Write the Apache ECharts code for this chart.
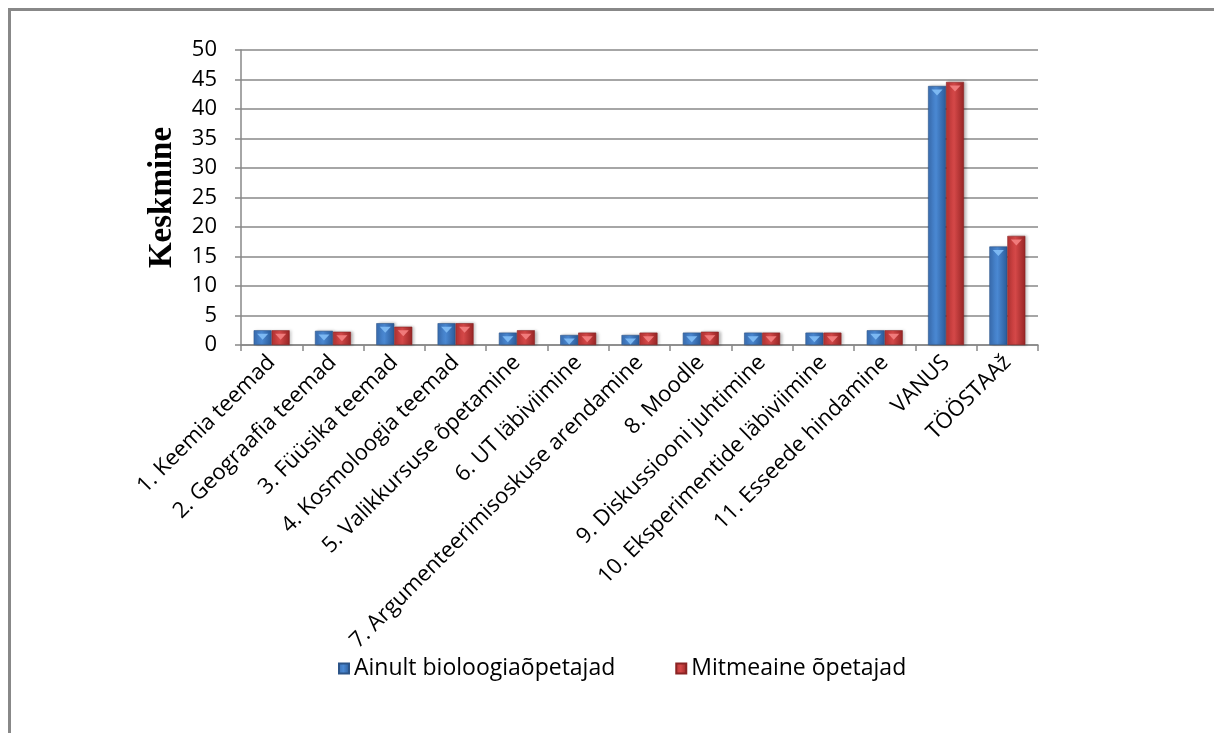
<!DOCTYPE html>
<html>
<head>
<meta charset="utf-8">
<script src="https://cdn.jsdelivr.net/npm/echarts@6/dist/echarts.min.js"></script>
<style>
  html, body { margin: 0; padding: 0; background: #fff; }
  #frame { position: absolute; left: 8px; top: 8px; width: 1206px; height: 725px;
           border-left: 3px solid #888; border-top: 3px solid #888; box-sizing: border-box; }
  #chart { position: absolute; left: 0; top: 0; width: 1214px; height: 733px; }
</style>
</head>
<body>
<div id="frame"></div>
<div id="chart"></div>
<script>
// Kategooriad ja keskmised väärtused
const categories = [
  '1. Keemia teemad',
  '2. Geograafia teemad',
  '3. Füüsika teemad',
  '4. Kosmoloogia teemad',
  '5. Valikkursuse õpetamine',
  '6. UT läbiviimine',
  '7. Argumenteerimisoskuse arendamine',
  '8. Moodle',
  '9. Diskussiooni juhtimine',
  '10. Eksperimentide läbiviimine',
  '11. Esseede hindamine',
  'VANUS',
  'TÖÖSTAAž'
];
const bioTeachers   = [2.5, 2.4, 3.7, 3.7, 2.1, 1.7, 1.7, 2.1, 2.1, 2.1, 2.5, 43.9, 16.7];
const multiTeachers = [2.5, 2.25, 3.1, 3.7, 2.5, 2.1, 2.1, 2.25, 2.1, 2.1, 2.5, 44.6, 18.5];
const seriesNames = ['Ainult bioloogiaõpetajad', 'Mitmeaine õpetajad'];
const yTicks = { min: 0, max: 50, interval: 5 };

function barGradient(dark, mid, light) {
  return new echarts.graphic.LinearGradient(0, 0, 1, 0, [
    { offset: 0, color: mid },
    { offset: 0.45, color: light },
    { offset: 1, color: dark }
  ]);
}

const chart = echarts.init(document.getElementById('chart'));
const labelFont = '"Open Sans", sans-serif';
const BAR_W = 18;

// light bevel triangle sitting at the top of each bar
function bevel(name, data, color) {
  return {
    name: name,
    type: 'pictorialBar',
    data: data,
    barWidth: BAR_W,
    barGap: '0%',
    symbol: 'triangle',
    symbolRotate: 180,
    symbolSize: [11, 6],
    symbolPosition: 'end',
    symbolOffset: [0, '60%'],
    itemStyle: { color: color },
    z: 3,
    silent: true
  };
}

chart.setOption({
  animation: false,
  grid: { left: 241, right: 176, top: 50, bottom: 388 },
  legend: {
    bottom: 48,
    left: 333,
    itemWidth: 10,
    itemHeight: 10,
    itemGap: 60,
    icon: 'rect',
    textStyle: { fontFamily: labelFont, fontSize: 23, color: '#000' },
    data: seriesNames
  },
  xAxis: {
    type: 'category',
    data: categories,
    axisLine: { lineStyle: { color: '#888', width: 1.5 } },
    axisTick: { show: true, length: 6, lineStyle: { color: '#888', width: 1.5 } },
    axisLabel: {
      rotate: 45,
      interval: 0,
      margin: 14,
      fontFamily: labelFont,
      fontSize: 22,
      color: '#000'
    }
  },
  yAxis: {
    type: 'value',
    min: yTicks.min,
    max: yTicks.max,
    interval: yTicks.interval,
    name: 'Keskmine',
    nameLocation: 'middle',
    nameGap: 62,
    nameTextStyle: {
      fontFamily: '"Liberation Serif", "Times New Roman", serif',
      fontWeight: 'bold',
      fontSize: 33,
      color: '#000'
    },
    axisLine: { show: true, lineStyle: { color: '#888', width: 1.5 } },
    axisTick: { show: true, length: 6, lineStyle: { color: '#888', width: 1.5 } },
    splitLine: { lineStyle: { color: '#888', width: 1.5 } },
    axisLabel: {
      margin: 24,
      fontFamily: labelFont,
      fontSize: 22,
      color: '#000'
    }
  },
  series: [
    {
      name: seriesNames[0],
      type: 'bar',
      data: bioTeachers,
      barWidth: BAR_W,
      barGap: '0%',
      itemStyle: {
        color: barGradient('#2a5a98', '#3b70b5', '#4a88d2'),
        borderColor: '#2c5488',
        borderWidth: 0.6,
        shadowColor: 'rgba(0,0,0,0.25)',
        shadowBlur: 3,
        shadowOffsetX: 2
      }
    },
    {
      name: seriesNames[1],
      type: 'bar',
      data: multiTeachers,
      barWidth: BAR_W,
      itemStyle: {
        color: barGradient('#972525', '#b93434', '#d44848'),
        borderColor: '#8a2424',
        borderWidth: 0.6,
        shadowColor: 'rgba(0,0,0,0.25)',
        shadowBlur: 3,
        shadowOffsetX: 2
      }
    },
    bevel('bioTop', bioTeachers, '#7cb8f2'),
    bevel('multiTop', multiTeachers, '#f07b7b')
  ]
});
</script>
</body>
</html>
